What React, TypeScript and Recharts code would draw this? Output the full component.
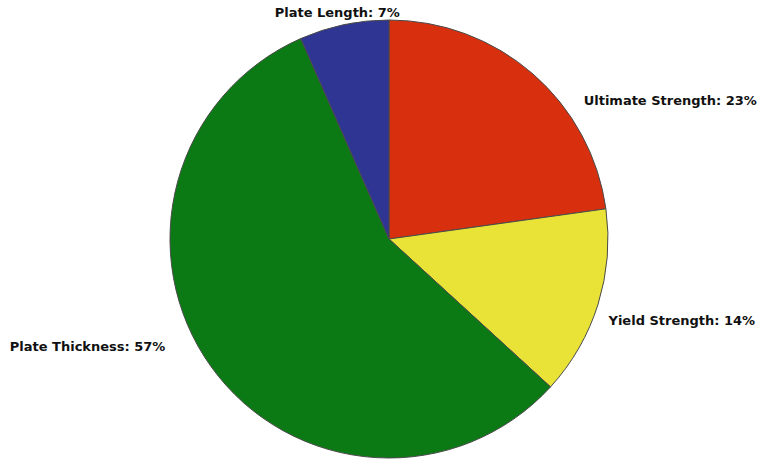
import { PieChart, Pie, Cell } from "recharts"

const categories = ["Ultimate Strength", "Yield Strength", "Plate Thickness", "Plate Length"]
const shares = [22.8, 14.0, 56.6, 6.6]
const colors = ["#d8300f", "#e8e336", "#0b7a14", "#2f3592"]

// label nudges relative to each slice's mid angle (deg) and outer radius (px)
const labelNudge: Record<string, { da: number; dr: number; anchor: "start" | "middle" | "end" }> = {
  "Ultimate Strength": { da: -13.5, dr: 20, anchor: "start" },
  "Yield Strength": { da: -3, dr: 15, anchor: "start" },
  "Plate Thickness": { da: -10, dr: 29, anchor: "end" },
  "Plate Length": { da: 1, dr: 13, anchor: "middle" },
}

const data = categories.map((name, i) => ({ name, value: shares[i] }))
const total = shares.reduce((a, b) => a + b, 0)

const RADIAN = Math.PI / 180

function renderLabel(props: any) {
  const { cx, cy, midAngle, outerRadius, name, value } = props
  const n = labelNudge[name]
  const a = (midAngle + n.da) * RADIAN
  const r = outerRadius + n.dr
  const x = cx + r * Math.cos(a)
  const y = cy - r * Math.sin(a)
  return (
    <text
      x={x}
      y={y}
      textAnchor={n.anchor}
      dominantBaseline="central"
      fontFamily="'DejaVu Sans', Arial, sans-serif"
      fontWeight="bold"
      fontSize={13}
      fill="#111"
    >
      {`${name}: ${Math.round((value / total) * 100)}%`}
    </text>
  )
}

export default function App() {
  return (
    <div style={{ position: "fixed", left: 0, top: 0, background: "#fff" }}>
      <PieChart width={771} height={459} margin={{ top: 0, right: 0, bottom: 0, left: 0 }}>
        <Pie
          data={data}
          dataKey="value"
          nameKey="name"
          cx={389}
          cy={239}
          outerRadius={219}
          startAngle={90}
          endAngle={-270}
          stroke="#4a4a4a"
          strokeWidth={1}
          label={renderLabel}
          labelLine={false}
          isAnimationActive={false}
        >
          {data.map((d, i) => (
            <Cell key={d.name} fill={colors[i]} />
          ))}
        </Pie>
      </PieChart>
    </div>
  )
}
